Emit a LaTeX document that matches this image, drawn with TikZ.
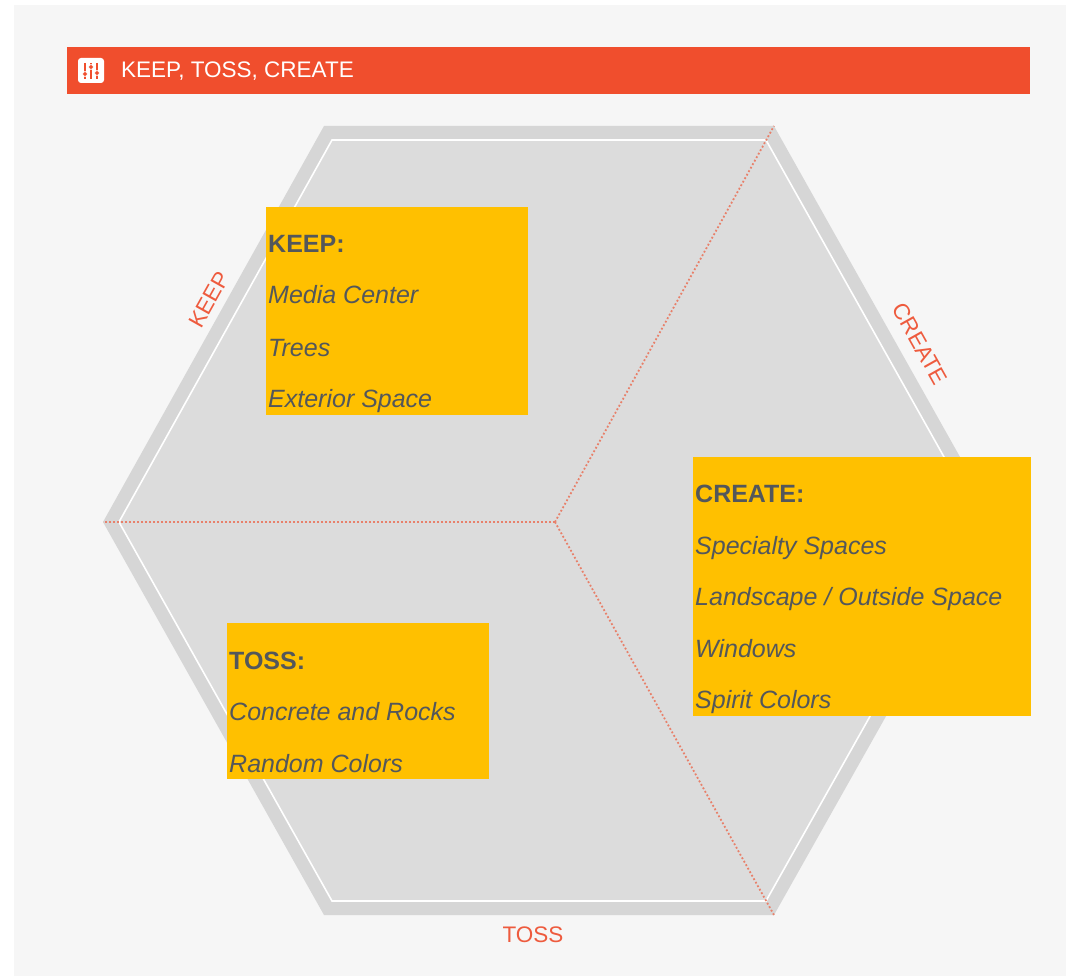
\documentclass[tikz,border=0pt]{standalone}
\usepackage{fontspec}
\setmainfont{Liberation Sans}
\usetikzlibrary{calc}
\definecolor{hdrred}{HTML}{F04E2D}
\definecolor{lblred}{HTML}{EE5B3E}
\definecolor{dotred}{HTML}{E8806A}
\definecolor{boxyel}{HTML}{FFC000}
\definecolor{txtgray}{HTML}{53575B}
\definecolor{hexband}{HTML}{D6D6D6}
\definecolor{hexfill}{HTML}{DCDCDC}
\definecolor{pagegray}{HTML}{F6F6F6}
\tikzset{
	boxhead/.style={anchor=base west, inner sep=0, text=txtgray, font=\fontsize{25}{30}\selectfont\bfseries},
	boxitem/.style={anchor=base west, inner sep=0, text=txtgray, font=\fontsize{25}{30}\selectfont\itshape},
	sidelabel/.style={inner sep=0, text=lblred, font=\fontsize{22.5}{26}\selectfont},
	divider/.style={dotred, line width=1.8pt, dash pattern=on 1.8pt off 2.2pt}
}

\begin{document}
\begin{tikzpicture}[x=1pt, y=-1pt]
			%%%%% START %%%%%
			\useasboundingbox (0, 0) rectangle (1068, 976);
			\fill[white] (0, 0) rectangle (1068, 976);
			\fill[pagegray] (14, 5) rectangle (1066, 976);
			
			% header bar
			\draw[fill=hdrred, draw=none] (67, 47) rectangle (1030, 94);
			\draw[fill=white, draw=none, rounded corners=3] (78, 58) rectangle (104, 83);
			\draw[hdrred, line width=1.6] (85, 63) -- (85, 79);
			\draw[hdrred, line width=1.6] (91, 63) -- (91, 79);
			\draw[hdrred, line width=1.6] (97, 63) -- (97, 79);
			\draw[fill=hdrred, draw=white, line width=0.8] (85, 74) circle (2.4);
			\draw[fill=hdrred, draw=white, line width=0.8] (91, 67) circle (2.4);
			\draw[fill=hdrred, draw=white, line width=0.8] (97, 73) circle (2.4);
			\node[anchor=west, inner sep=0, text=white, font=\fontsize{22.5}{26}\selectfont] (title) at (121, 71) {KEEP, TOSS, CREATE};
			
			% hexagon
			\coordinate (vtl) at (324, 126);
			\coordinate (vtr) at (774, 126);
			\coordinate (vr) at (996, 521);
			\coordinate (vbr) at (774, 915);
			\coordinate (vbl) at (324, 915);
			\coordinate (vl) at (103, 522);
			\coordinate (hub) at (555, 522);
			\draw[fill=hexband, draw=none] (vtl) -- (vtr) -- (vr) -- (vbr) -- (vbl) -- (vl) -- cycle;
			\draw[fill=hexfill, draw=white, line width=1.6] (332, 140) -- (766, 140) -- (980, 521) -- (766, 901) -- (332, 901) -- (119, 522) -- cycle;
			
			\draw[divider] (hub) -- (vl);
			\draw[divider] (hub) -- (vtr);
			\draw[divider] (hub) -- (vbr);
			
			\node[sidelabel, rotate=60.7] (keeplbl) at (209, 300) {KEEP};
			\node[sidelabel, rotate=-60.7] (createlbl) at (920, 344) {CREATE};
			\node[sidelabel] (tosslbl) at (533, 935) {TOSS};
			
			% keep box
			\draw[fill=boxyel, draw=none] (266, 207) rectangle (528, 415);
			\node[boxhead] (keephead) at (268, 253) {KEEP:};
			\node[boxitem] (keepa) at (268, 304) {Media Center};
			\node[boxitem] (keepb) at (268, 356) {Trees};
			\node[boxitem] (keepc) at (268, 407) {Exterior Space};
			
			% create box
			\draw[fill=boxyel, draw=none] (693, 457) rectangle (1031, 716);
			\node[boxhead] (createhead) at (695, 502) {CREATE:};
			\node[boxitem] (createa) at (695, 554) {Specialty Spaces};
			\node[boxitem] (createb) at (695, 605) {Landscape / Outside Space};
			\node[boxitem] (createc) at (695, 657) {Windows};
			\node[boxitem] (created) at (695, 708) {Spirit Colors};
			
			% toss box
			\draw[fill=boxyel, draw=none] (227, 623) rectangle (489, 779);
			\node[boxhead] (tosshead) at (229, 669) {TOSS:};
			\node[boxitem] (tossa) at (229, 720) {Concrete and Rocks};
			\node[boxitem] (tossb) at (229, 772) {Random Colors};
			
			%%%%% END %%%%%
\end{tikzpicture}
\end{document}
